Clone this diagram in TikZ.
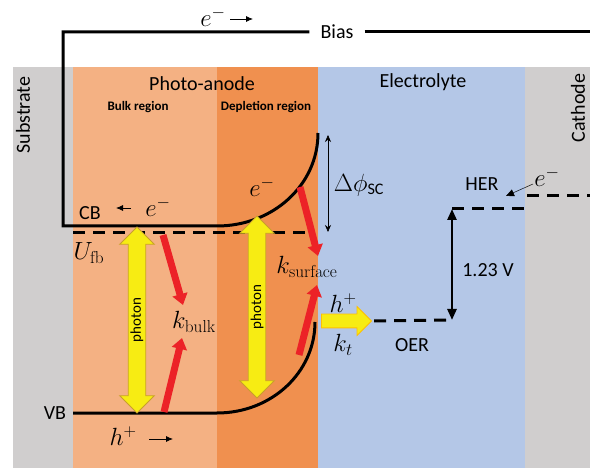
\documentclass[tikz,border=0pt]{standalone}
\usepackage{amsmath}
\usepackage[no-math]{fontspec}
\setmainfont{Carlito}
\usepackage{tikz}
\usetikzlibrary{shapes.arrows,arrows.meta,positioning,calc}
\usepackage{xcolor}
\definecolor{substrategrey}{HTML}{D0CECE}
\definecolor{bulkorange}{HTML}{F4B183}
\definecolor{depletionorange}{HTML}{F0904F}
\definecolor{electrolyteblue}{HTML}{B4C7E7}
\definecolor{photonyellow}{HTML}{F7EC13}
\definecolor{photongold}{HTML}{C8A02A}
\definecolor{transferamber}{HTML}{FFC000}
\definecolor{recombred}{HTML}{EC2227}

\begin{document}
\begin{tikzpicture}[x=1pt, y=-1pt,
  every node/.style={font=\fontsize{20}{24}\selectfont},
  mathlabel/.style={font=\fontsize{23}{27}\selectfont},
  sidelabel/.style={rotate=90, inner sep=1pt},
  region/.style={draw=none, anchor=north west, inner sep=0pt,
    minimum height=401pt},
  regiontitle/.style={font=\fontsize{13}{15}\selectfont\bfseries},
  band/.style={line width=3pt},
  level/.style={line width=3pt, dash pattern=on 12pt off 8pt},
  flow/.style={-{Latex[length=7pt,width=6pt]}, line width=0.8pt},
  redarrow/.style={recombred, line width=7pt,
    -{Triangle[length=11pt,width=15pt]}},
  potential/.style={line width=2.5pt,
    {Triangle[length=11pt,width=9pt]}-{Triangle[length=11pt,width=9pt]}},
  photonarrow/.style={double arrow, rotate=90, fill=photonyellow,
    draw=photongold, line width=0.8pt, double arrow head extend=8.5pt,
    inner xsep=0pt, inner ysep=2pt, font=\fontsize{15}{17}\selectfont}]
\useasboundingbox (0,0) rectangle (590,468);
% layers of the cell
\node[region, fill=substrategrey, minimum width=60pt] (substrate) at (13,67) {};
\node[region, fill=bulkorange, minimum width=144pt] (bulk) at (73,67) {};
\node[region, fill=depletionorange, minimum width=101pt] (depletion) at (217,67) {};
\node[region, fill=electrolyteblue, minimum width=207pt] (electrolyte) at (318,67) {};
\node[region, fill=substrategrey, minimum width=65pt] (cathode) at (525,67) {};
\node[sidelabel] (substratelabel) at (23,115) {Substrate};
\node[sidelabel] (cathodelabel) at (578,108) {Cathode};
\node (anodelabel) at (202,84) {Photo-anode};
\node (electrolytelabel) at (423,82) {Electrolyte};
\node[regiontitle] (bulklabel) at (138,107) {Bulk region};
\node[regiontitle] (depletionlabel) at (266,107) {Depletion region};
% bias wire and bands
\node[inner xsep=11pt] (bias) at (337,32) {Bias};
\coordinate (cbleft) at (63,226);
\coordinate (cbbend) at (217,226);
\coordinate (cbtop) at (318,133);
\coordinate (biasend) at (590,32);
\draw[band] (cbtop) .. controls +(0,52) and +(56,0) .. (cbbend)
  -- (cbleft) |- (bias.west);
\draw[band] (bias.east) -- (biasend);
\coordinate (vbleft) at (73,413);
\coordinate (vbbend) at (217,413);
\coordinate (vbtop) at (315,322);
\draw[band] (vbleft) -- (vbbend) .. controls +(55,0) and +(0,50) .. (vbtop);
\coordinate (fbleft) at (73,233);
\coordinate (fbright) at (312,233);
\draw[level] (fbleft) -- (fbright);
% photons and charge transfer
\node[photonarrow, minimum height=186pt, minimum width=34pt] (photonbulk)
  at (137,320) {photon};
\node[photonarrow, minimum height=182pt, minimum width=34pt] (photondepletion)
  at (257,307) {photon};
\node[single arrow, fill=photonyellow, draw=transferamber, line width=0.8pt,
      minimum height=50pt, minimum width=28pt, single arrow head extend=7.5pt,
      inner xsep=0pt, inner ysep=6.5pt] (hole) at (343,321) {};
\coordinate (bulkcb) at (163,235);
\coordinate (bulkcbtip) at (183,305);
\coordinate (bulkvb) at (164,412);
\coordinate (bulkvbtip) at (182,338);
\coordinate (surfcb) at (300,187);
\coordinate (surfcbtip) at (318,256);
\coordinate (surfvb) at (299,355);
\coordinate (surfvbtip) at (317,285);
\foreach \src/\dst in {bulkcb/bulkcbtip, bulkvb/bulkvbtip,
                        surfcb/surfcbtip, surfvb/surfvbtip} {
  \draw[redarrow] (\src) -- (\dst);}
% redox levels
\coordinate (oerlevel) at (452,320);
\coordinate (herlevel) at (452,209);
\coordinate (herend) at (525,209);
\coordinate (cathodelevel) at (527,196);
\coordinate (cathodeend) at (590,196);
\draw[level] ([xshift=2pt]hole.east) -- (oerlevel);
\draw[level] (herlevel) -- (herend);
\draw[level] (cathodelevel) -- (cathodeend);
\draw[potential] (oerlevel) -- (herlevel);
\coordinate (scptop) at (328,135);
\coordinate (scpbottom) at (328,232);
\draw[{Stealth[length=7pt,width=6pt]}-{Stealth[length=7pt,width=6pt]},
      line width=0.6pt] (scptop) -- (scpbottom);
% labels
\node[mathlabel] (wireelectron) at (213,17) {$e^-$};
\coordinate (wireflow) at (230,19);
\coordinate (wireflowtip) at (253,19);
\draw[flow] (wireflow) -- (wireflowtip);
\node (cblabel) at (90,213) {CB};
\node[mathlabel] (cbelectron) at (158,207) {$e^-$};
\coordinate (cbflow) at (131,208);
\coordinate (cbflowtip) at (116,208);
\draw[flow] (cbflow) -- (cbflowtip);
\node[mathlabel] (depletionelectron) at (262,187) {$e^-$};
\node[mathlabel] (fblabel) at (89,253) {$U_{\mathrm{fb}}$};
\node (vblabel) at (55,413) {VB};
\node[mathlabel] (vbhole) at (123,436) {$h^+$};
\coordinate (vbflow) at (149,439);
\coordinate (vbflowtip) at (173,439);
\draw[flow] (vbflow) -- (vbflowtip);
\node[mathlabel] (kbulk) at (194,322) {$k_{\mathrm{bulk}}$};
\node[mathlabel] (ksurface) at (307,267) {$k_{\mathrm{surface}}$};
\node[mathlabel] (scplabel) at (359,185) {$\Delta\phi_{\text{SC}}$};
\node[mathlabel] (holelabel) at (343,303) {$h^+$};
\node[mathlabel] (ktlabel) at (343,345) {$k_t$};
\node (oerlabel) at (412,345) {OER};
\node (potentiallabel) at (488,270) {1.23 V};
\node (herlabel) at (482,184) {HER};
\node[mathlabel] (herelectron) at (547,177) {$e^-$};
\coordinate (herflow) at (533,184);
\coordinate (herflowtip) at (506,196);
\draw[-{Triangle[length=8pt,width=7pt]}, line width=0.5pt]
  (herflow) -- (herflowtip);
\end{tikzpicture}
\end{document}
